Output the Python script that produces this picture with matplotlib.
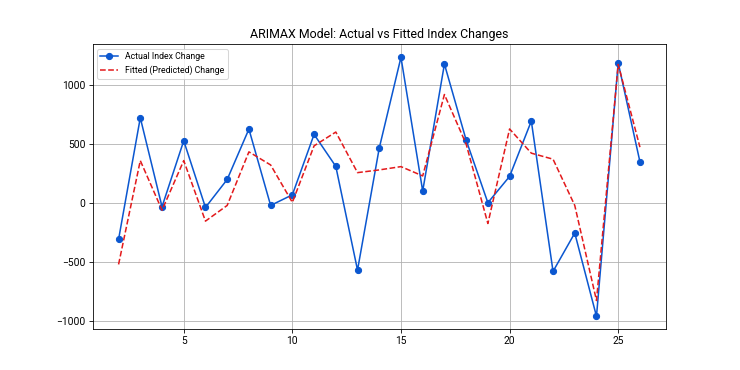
import matplotlib
matplotlib.use("Agg")
import matplotlib.pyplot as plt

plt.rcParams['font.family'] = ['Roboto', 'DejaVu Sans']

# time index
t = list(range(2, 27))

# actual index change
actual = [-308, 723, -31, 528, -37, 200, 627, -20, 70, 582, 311, -568, 466,
          1235, 102, 1178, 534, 3, 226, 695, -579, -254, -960, 1189, 350]

# fitted (predicted) change
fitted = [-520, 360, -60, 360, -153, -20, 434, 323, 6, 485, 602, 258, 281,
          309, 230, 920, 500, -173, 628, 423, 372, -20, -826, 1175, 474]

fig, ax = plt.subplots(figsize=(10, 5), dpi=74)

ax.plot(t, actual, marker='o', color='#0b57d0', label='Actual Index Change')
ax.plot(t, fitted, linestyle='--', color='#e31a1c', label='Fitted (Predicted) Change')

ax.set_title('ARIMAX Model: Actual vs Fitted Index Changes')
ax.legend(loc='upper left', fontsize=8.5)
ax.grid(True)

fig.savefig('out.png', dpi=74)
